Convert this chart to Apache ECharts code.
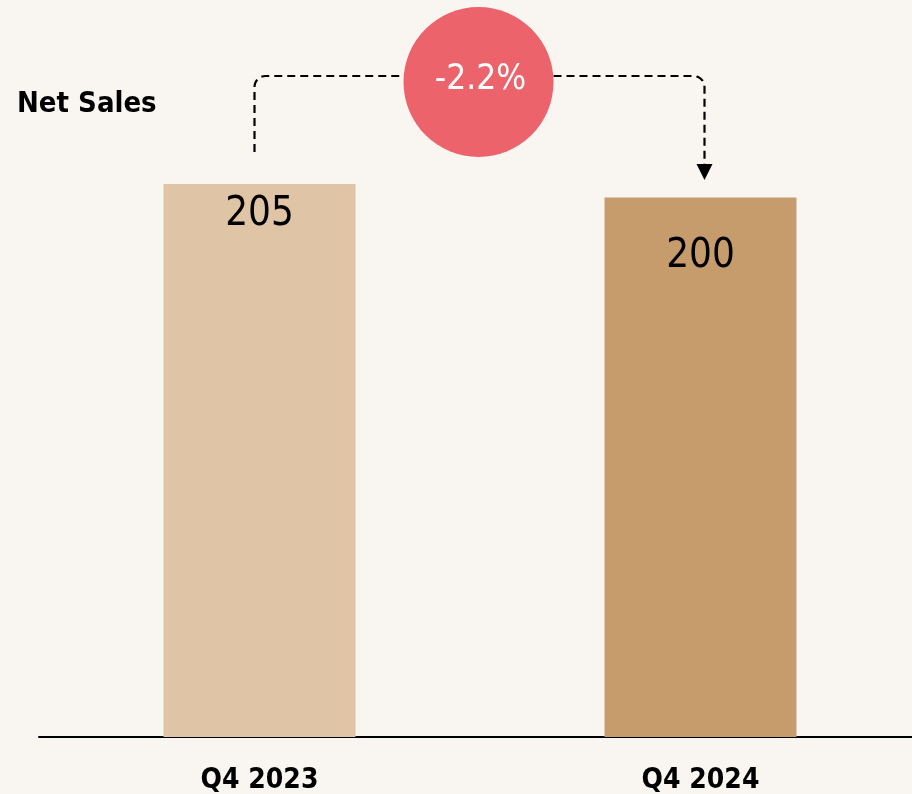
<!DOCTYPE html>
<html><head><meta charset="utf-8">
<script src="https://cdn.jsdelivr.net/npm/echarts@6/dist/echarts.min.js"></script>
<style>html,body{margin:0;padding:0;background:#f9f6f1}#c{width:912px;height:794px}</style>
</head><body><div id="c"></div>
<script>
const categories = ['Q4 2023', 'Q4 2024'];
const netSales = [205, 200];
const changeLabel = '-2.2%';
const chartTitle = 'Net Sales';
const barColors = ['#dfc4a5', '#c79c6d'];

const F = "'DejaVu Sans Condensed', 'DejaVu Sans', sans-serif";
const chart = echarts.init(document.getElementById('c'), null, {renderer: 'canvas'});
const labelOffsets = [31, 59];
const yMax = Math.max(...netSales);

chart.setOption({
  backgroundColor: '#f9f6f1',
  animation: false,
  title: { text: chartTitle, left: 12, top: 85,
    textStyle: { fontFamily: F, fontWeight: 'bold', fontSize: 29, color: '#000' } },
  grid: { left: 39, top: 184, right: -9, bottom: 57, outerBoundsMode: 'none', containLabel: false },
  xAxis: { type: 'category', data: categories,
    axisLine: { lineStyle: { color: '#000', width: 2 } },
    axisTick: { show: false },
    axisLabel: { fontFamily: F, fontWeight: 'bold', fontSize: 28, color: '#000', margin: 30 } },
  yAxis: { type: 'value', min: 0, max: yMax, show: false, splitLine: { show: false } },
  series: [{
    type: 'bar', barWidth: 192,
    data: netSales.map((v, i) => ({ value: v, itemStyle: { color: barColors[i] },
      label: { position: ['50%', labelOffsets[i]] } })),
    label: { show: true, align: 'center', verticalAlign: 'middle',
      fontFamily: F, fontSize: 40, color: '#000' }
  }]
});

const p0 = chart.convertToPixel({ gridIndex: 0 }, [0, netSales[0]]);
const p1 = chart.convertToPixel({ gridIndex: 0 }, [1, netSales[1]]);
const topY = chart.convertToPixel({ gridIndex: 0 }, [0, yMax])[1];
const xL = p0[0] - 5, xR = p1[0] + 4;
const yTop = topY - 108, yStart = topY - 32, yArrow = topY - 4;
const cx = (xL + xR) / 2 - 1, cy = topY - 102, r = 75, rc = 11, ah = 16, aw = 8;

const leftPts = [[xL, yStart]];
for (let k = 0; k <= 8; k++) {
  const a = (Math.PI / 2) * k / 8;
  leftPts.push([xL + rc - rc * Math.cos(a), yTop + rc - rc * Math.sin(a)]);
}
leftPts.push([cx - r, yTop]);
const rightPts = [[cx + r, yTop]];
for (let k = 0; k <= 8; k++) {
  const a = (Math.PI / 2) * k / 8;
  rightPts.push([xR - rc + rc * Math.sin(a), yTop + rc - rc * Math.cos(a)]);
}
rightPts.push([xR, yArrow - ah]);

const dashStyle = { fill: null, stroke: '#000', lineWidth: 2.2, lineDash: [8, 5] };
chart.setOption({
  graphic: [
    { type: 'polyline', shape: { points: leftPts }, style: dashStyle },
    { type: 'polyline', shape: { points: rightPts }, style: dashStyle },
    { type: 'polygon', shape: { points: [[xR - aw, yArrow - ah], [xR + aw, yArrow - ah], [xR, yArrow]] },
      style: { fill: '#000' } },
    { type: 'circle', shape: { cx: cx, cy: cy, r: r }, style: { fill: '#ec636c' } },
    { type: 'text', x: cx + 2, y: cy - 2,
      style: { text: changeLabel, fill: '#fff', font: "35px 'DejaVu Sans Condensed', 'DejaVu Sans', sans-serif",
        align: 'center', verticalAlign: 'middle' } }
  ]
});
</script></body></html>
